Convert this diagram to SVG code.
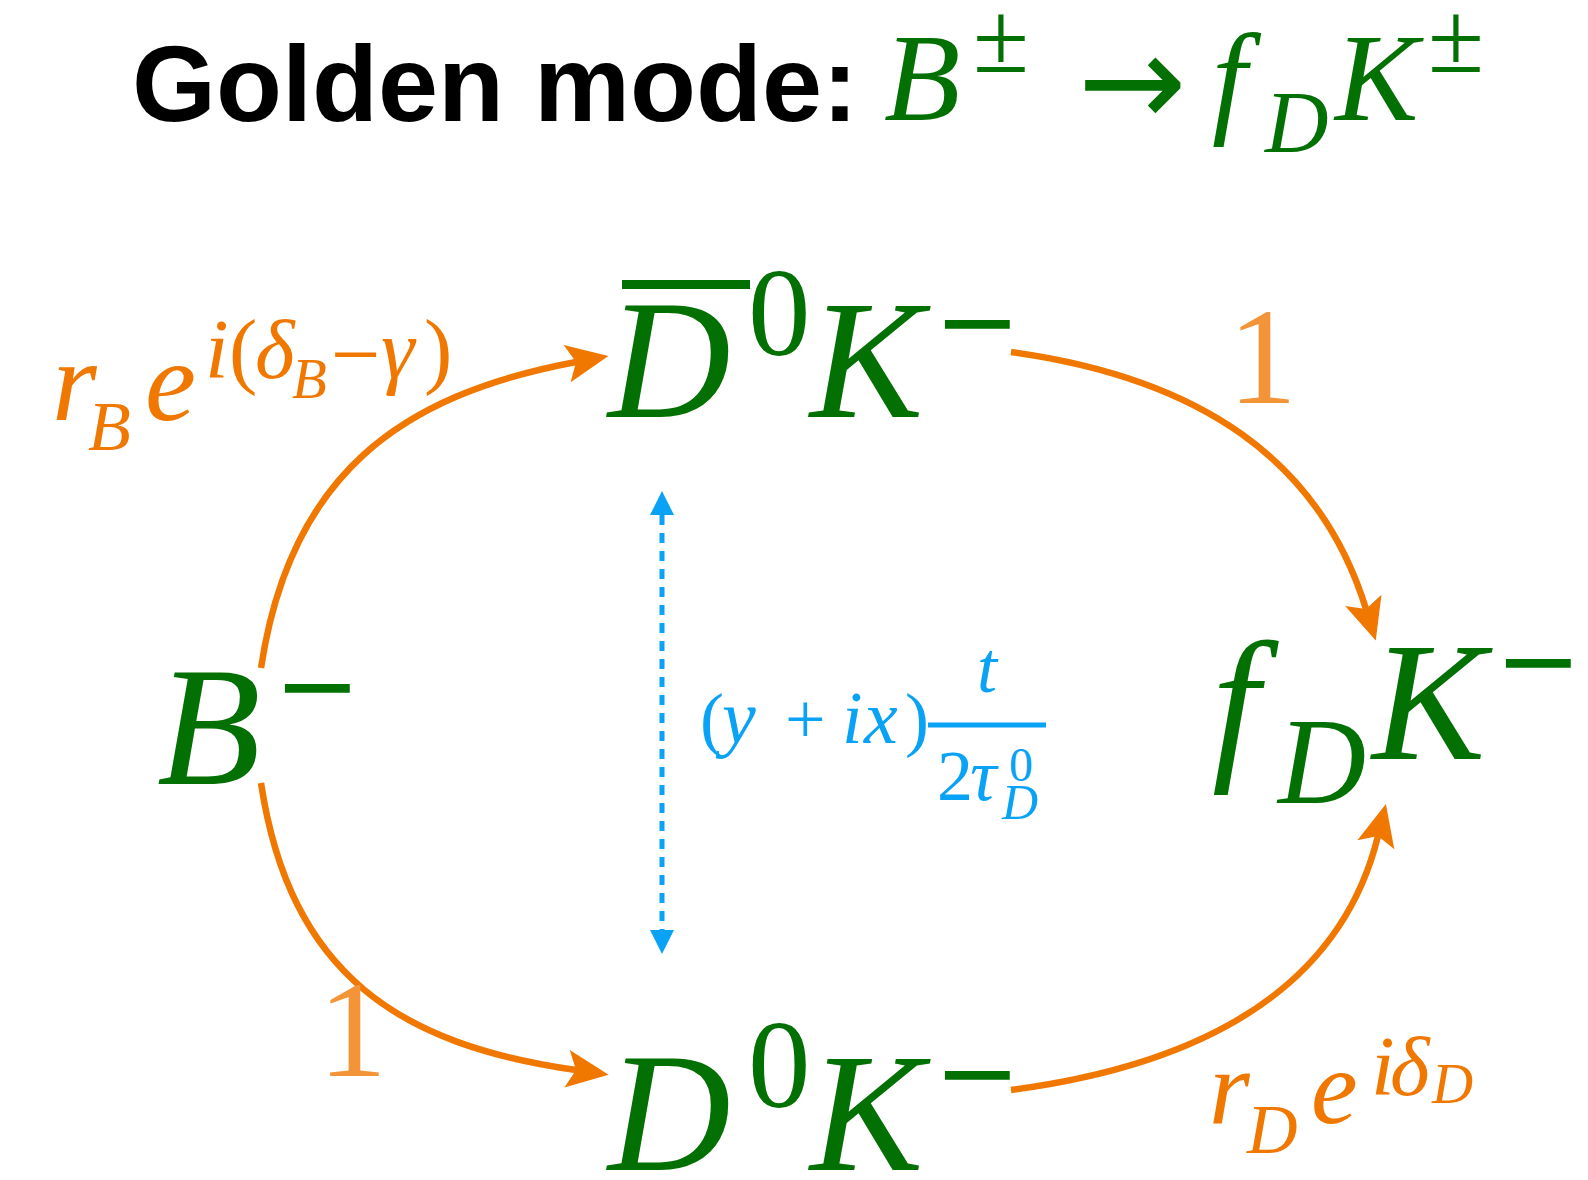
<svg xmlns="http://www.w3.org/2000/svg" width="1588" height="1180" viewBox="0 0 1588 1180">
<style>
.m{font-family:"Liberation Serif","Times New Roman",serif;font-style:italic}
.u{font-family:"Liberation Serif","Times New Roman",serif;font-style:normal}
.g{fill:#037003}
.o{fill:#F07800}
.o1{fill:#F39438}
.b{fill:#0AA2F5}
.big{font-size:170px}
.sup{font-size:125px}
.minus{font-size:135px;stroke:#037003;stroke-width:2}
.edge{fill:none;stroke:#F07800;stroke-width:6.5}
</style>
<defs>
<marker id="ah" markerUnits="userSpaceOnUse" markerWidth="42" markerHeight="38" refX="9" refY="19" orient="auto" overflow="visible">
<path d="M0,0 L42,19 L0,38 L9,19 Z" fill="#F07800"/>
</marker>
<marker id="bh" markerUnits="userSpaceOnUse" markerWidth="24" markerHeight="24" refX="0" refY="12" orient="auto-start-reverse" overflow="visible">
<path d="M0,0 L24,12 L0,24 Z" fill="#0AA2F5"/>
</marker>
</defs>
<rect width="1588" height="1180" fill="#ffffff"/>

<g id="title">
<text x="132" y="121" font-family="Liberation Sans, Arial, sans-serif" font-weight="bold" font-size="108" fill="#000">Golden mode:</text>
<text class="m g" font-size="125" x="884" y="120">B</text>
<text class="u g" font-size="102" x="973" y="72">±</text>
<text class="g" font-family="DejaVu Sans, sans-serif" font-size="130" x="1078" y="126">→</text>
<text class="m g" font-size="125" x="1212" y="120">f</text>
<text class="m g" font-size="88" x="1265" y="152">D</text>
<text class="m g" font-size="125" x="1335" y="120">K</text>
<text class="u g" font-size="102" x="1428" y="72">±</text>
</g>

<g id="connectors">
<path class="edge" d="M261,668 C290,475 400,395 576,362" marker-end="url(#ah)"/>
<path class="edge" d="M261,783 C290,975 400,1045 576,1070" marker-end="url(#ah)"/>
<path class="edge" d="M1011,352 C1200,378 1320,460 1366,609" marker-end="url(#ah)"/>
<path class="edge" d="M1011,1090 C1200,1065 1340,990 1378,836" marker-end="url(#ah)"/>
<line x1="662" y1="515" x2="662" y2="930" stroke="#0AA2F5" stroke-width="5" stroke-dasharray="10 8" marker-start="url(#bh)" marker-end="url(#bh)"/>
</g>

<g id="node-Dbar0K">
<rect x="622" y="280" width="128" height="9" fill="#037003"/>
<text class="m g big" x="608" y="417">D</text>
<text class="u g sup" x="748" y="355">0</text>
<text class="m g big" x="810" y="417">K</text>
<text class="u g minus" x="939" y="369">−</text>
</g>

<g id="node-B">
<text class="m g big" x="157" y="784">B</text>
<text class="u g minus" x="279" y="733">−</text>
</g>

<g id="node-fDK">
<text class="m g big" x="1212" y="759">f</text>
<text class="m g" font-size="122" x="1278" y="803">D</text>
<text class="m g big" x="1372" y="759">K</text>
<text class="u g minus" x="1500" y="708">−</text>
</g>

<g id="node-D0K">
<text class="m g big" x="608" y="1170">D</text>
<text class="u g sup" x="748" y="1107">0</text>
<text class="m g big" x="810" y="1170">K</text>
<text class="u g minus" x="939" y="1120">−</text>
</g>

<g id="label-rB">
<text class="m o" font-size="115" x="52" y="420">r</text>
<text class="m o" font-size="70" x="88" y="450">B</text>
<text class="m o" font-size="115" x="145" y="420">e</text>
<text class="m o" font-size="85" x="205" y="378">i</text>
<text class="u o" font-size="85" x="229" y="378">(</text>
<text class="m o" font-size="85" x="255" y="378">δ</text>
<text class="m o" font-size="57" x="292" y="398">B</text>
<text class="u o" font-size="88" x="331" y="384">−</text>
<text class="m o" font-size="85" x="381" y="378">γ</text>
<text class="u o" font-size="85" x="424" y="378">)</text>
</g>

<g id="label-rD">
<text class="m o" font-size="105" x="1209" y="1123">r</text>
<text class="m o" font-size="70" x="1247" y="1153">D</text>
<text class="m o" font-size="105" x="1311" y="1123">e</text>
<text class="m o" font-size="85" x="1371" y="1095">i</text>
<text class="m o" font-size="85" x="1390" y="1095">δ</text>
<text class="m o" font-size="57" x="1432" y="1103">D</text>
</g>

<g id="label-1-top"><text class="u o1" font-size="138" x="1228" y="403">1</text></g>
<g id="label-1-bottom"><text class="u o1" font-size="138" x="318" y="1076">1</text></g>

<g id="label-mixing">
<text class="u b" font-size="72" x="700" y="743">(</text>
<text class="m b" font-size="76" x="722" y="743">y</text>
<text class="u b" font-size="72" x="785" y="743">+</text>
<text class="m b" font-size="74" x="842" y="743">i</text>
<text class="m b" font-size="76" x="864" y="743">x</text>
<text class="u b" font-size="72" x="905" y="743">)</text>
<rect x="928" y="722.5" width="118" height="5" fill="#0AA2F5"/>
<text class="m b" font-size="72" x="977" y="692">t</text>
<text class="u b" font-size="72" x="937" y="800">2</text>
<text class="m b" font-size="74" x="970" y="800">τ</text>
<text class="u b" font-size="48" x="1009" y="781">0</text>
<text class="m b" font-size="50" x="1002" y="819">D</text>
</g>
</svg>
